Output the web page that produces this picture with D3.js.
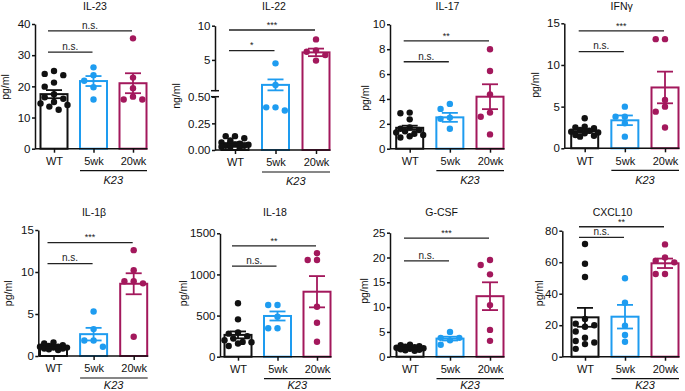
<!DOCTYPE html>
<html><head><meta charset="utf-8">
<script src="https://cdn.jsdelivr.net/npm/d3@7"></script>
<style>
body{margin:0;background:#fff}
svg{display:block;font-family:"Liberation Sans",Arial,Helvetica,sans-serif}
</style></head><body>
<svg id="c" width="685" height="391"></svg>
<script>
// ---------- data ----------
const groups = ["WT", "5wk", "20wk"];
const subgroupLabel = "K23";
const colors = ["#111111", "#1e9cf0", "#a3185c"];

// IL-23 (pg/ml)
const il23WT  = [24.9, 24.0, 23.6, 21.2, 19.9, 17.5, 16.5, 16.0, 15.0, 14.5, 14.0, 13.5, 12.5];
const il23W5  = [26.1, 23.6, 21.8, 19.7, 15.8];
const il23W20 = [35.4, 22.8, 19.4, 16.7, 15.8, 15.8];
const il23Mean = [17.5, 21.7, 21.0];
const il23Sem  = [1.3, 1.6, 3.2];
const il23Ticks = [0, 10, 20, 30, 40];
const il23Sig = [[2, 37.8, "n.s."], [1, 31, "n.s."]];

// IL-22 (ng/ml, broken axis)
const il22WT  = [0.13, 0.13, 0.11, 0.09, 0.07, 0.06, 0.05, 0.05, 0.04, 0.04, 0.03, 0.03, 0.02];
const il22W5  = [4.5, 1.33, 0.40, 0.40, 0.37];
const il22W20 = [8.0, 6.4, 6.2, 5.7, 4.9];
const il22Mean = [0.063, 1.35, 6.1];
const il22Sem  = [0.01, 0.8, 0.55];
const il22TicksLow = [0, 0.25, 0.5];
const il22TicksHigh = [5, 10];
const il22Sig = [[2, 9.37, "***"], [1, 6.35, "*"]];

// IL-17 (pg/ml)
const il17WT  = [2.9, 2.85, 2.36, 1.7, 1.6, 1.5, 1.4, 1.3, 1.2, 1.1, 1.0, 0.9];
const il17W5  = [3.6, 3.2, 2.5, 2.4, 1.6];
const il17W20 = [8.0, 6.25, 4.37, 2.9, 2.57, 1.15];
const il17Mean = [1.68, 2.52, 4.18];
const il17Sem  = [0.17, 0.36, 1.0];
const il17Ticks = [0, 2, 4, 6, 8, 10];
const il17Sig = [[2, 8.66, "**"], [1, 6.99, "n.s."]];

// IFNγ (pg/ml)
const ifngWT  = [3.6, 2.6, 2.5, 2.4, 2.2, 2.1, 2.0, 1.9, 1.8, 1.6, 1.5, 1.4];
const ifngW5  = [5.0, 3.8, 3.8, 3.0, 1.4];
const ifngW20 = [13.1, 13.1, 5.8, 5.0, 4.4, 2.5];
const ifngMean = [2.04, 3.36, 7.3];
const ifngSem  = [0.17, 0.58, 1.9];
const ifngTicks = [0, 5, 10, 15];
const ifngSig = [[2, 14.1, "***"], [1, 11.6, "n.s."]];

// IL-1β (pg/ml)
const il1bWT  = [1.6, 1.5, 1.3, 1.2, 1.1, 1.1, 1.0, 1.0, 0.9, 0.9, 0.8, 0.7];
const il1bW5  = [5.3, 3.2, 1.85, 1.85, 1.1];
const il1bW20 = [12.6, 10.2, 8.9, 8.9, 8.65, 2.3];
const il1bMean = [1.11, 2.6, 8.6];
const il1bSem  = [0.08, 0.75, 1.25];
const il1bTicks = [0, 5, 10, 15];
const il1bSig = [[2, 13.5, "***"], [1, 11.0, "n.s."]];

// IL-18 (pg/ml)
const il18WT  = [649, 454, 296, 280, 250, 220, 200, 180, 175, 160, 130];
const il18W5  = [628, 628, 486, 345, 345];
const il18W20 = [1257, 1176, 1176, 608, 413, 182];
const il18Mean = [265, 495, 790];
const il18Sem  = [42, 55, 190];
const il18Ticks = [0, 500, 1000, 1500];
const il18Sig = [[2, 1346, "**"], [1, 1102, "n.s."]];

// G-CSF (pg/ml)
const gcsfWT  = [2.4, 2.3, 2.1, 2.0, 1.9, 1.8, 1.7, 1.6, 1.5, 1.4, 1.3, 1.2];
const gcsfW5  = [5.0, 3.8, 3.8, 3.3, 2.4];
const gcsfW20 = [19.5, 18.5, 16.6, 10.4, 5.4, 3.2];
const gcsfMean = [1.8, 3.65, 12.2];
const gcsfSem  = [0.1, 0.38, 2.8];
const gcsfTicks = [0, 5, 10, 15, 20, 25];
const gcsfSig = [[2, 23.9, "***"], [1, 19.3, "n.s."]];

// CXCL10 (pg/ml)
const cxclWT  = [71.6, 59.0, 50.6, 24, 21, 20, 19, 16, 12, 10, 9, 8, 5];
const cxclW5  = [49.8, 34.3, 19.7, 13.8, 9.5];
const cxclW20 = [71.3, 63, 61, 59.9, 52.5, 52.5];
const cxclMean = [25.0, 25.4, 59.3];
const cxclSem  = [6.0, 7.5, 3.0];
const cxclTicks = [0, 20, 40, 60, 80];
const cxclSig = [[2, 82.5, "**"], [1, 75.8, "n.s."]];

// ---------- layout (positions only) ----------
const panels = [
  {title:"IL-23", unit:"pg/ml", pts:[il23WT,il23W5,il23W20], mean:il23Mean, sem:il23Sem, ticks:il23Ticks, sig:il23Sig,
   L:{ax:35, c0:54, c2:133, yb:148.7, yt:24, tx:95, ty:9.5, lx:8.8, ly:87, kb:35.5}},
  {title:"IL-22", unit:"ng/ml", pts:[il22WT,il22W5,il22W20], mean:il22Mean, sem:il22Sem, broken:true, sig:il22Sig,
   L:{ax:215, c0:235, c2:316, yb:150, yt:25.7, yBreakLow:96.7, yBreakHigh:90.7, tx:274, ty:9.5, lx:179.5, ly:96, kb:34.5}},
  {title:"IL-17", unit:"pg/ml", pts:[il17WT,il17W5,il17W20], mean:il17Mean, sem:il17Sem, ticks:il17Ticks, sig:il17Sig,
   L:{ax:390, c0:409.7, c2:490, yb:148.7, yt:24.3, tx:447.5, ty:9.5, lx:368.5, ly:98, kb:35.5}},
  {title:"IFNγ", unit:"pg/ml", pts:[ifngWT,ifngW5,ifngW20], mean:ifngMean, sem:ifngSem, ticks:ifngTicks, sig:ifngSig,
   L:{ax:564.3, c0:584.7, c2:665, yb:148.3, yt:23.3, tx:621.7, ty:9.5, lx:538.5, ly:85, kb:35.5}},
  {title:"IL-1β", unit:"pg/ml", pts:[il1bWT,il1bW5,il1bW20], mean:il1bMean, sem:il1bSem, ticks:il1bTicks, sig:il1bSig,
   L:{ax:38.3, c0:53.5, c2:133.7, yb:356, yt:230, tx:94, ty:215.5, lx:11.5, ly:293.3, kb:32.5}},
  {title:"IL-18", unit:"pg/ml", pts:[il18WT,il18W5,il18W20], mean:il18Mean, sem:il18Sem, ticks:il18Ticks, sig:il18Sig,
   L:{ax:220, c0:238, c2:317, yb:356.7, yt:233.3, tx:275, ty:215.5, lx:187, ly:293.3, kb:32}},
  {title:"G-CSF", unit:"pg/ml", pts:[gcsfWT,gcsfW5,gcsfW20], mean:gcsfMean, sem:gcsfSem, ticks:gcsfTicks, sig:gcsfSig,
   L:{ax:390, c0:410, c2:490, yb:356.7, yt:232.7, tx:441.7, ty:215.5, lx:368, ly:291, kb:32}},
  {title:"CXCL10", unit:"pg/ml", pts:[cxclWT,cxclW5,cxclW20], mean:cxclMean, sem:cxclSem, ticks:cxclTicks, sig:cxclSig,
   L:{ax:562.3, c0:585, c2:665, yb:356.7, yt:230.7, tx:612.5, ty:215.5, lx:543, ly:293.3, kb:32}}
];

const svg = d3.select("#c");
const BW = 27, R = 3.2, CAP = 8;

function placeDots(vals, y, cx) {
  const s = 9.3;
  const cands = [0, -s, s, -s/2, s/2, -1.45*s, 1.45*s];
  const order = vals.map((v,i)=>i).sort((a,b)=>vals[b]-vals[a]);
  const placed = [];
  const out = [];
  order.forEach(i => {
    const py = y(vals[i]);
    let chosen = null, best = -1, bestC = 0;
    for (const c of cands) {
      const md = placed.length ? d3.min(placed, p => Math.hypot(p[0]-c, p[1]-py)) : Infinity;
      if (md >= 2*R) { chosen = c; break; }
      if (md > best + 0.6) { best = md; bestC = c; }
    }
    if (chosen === null) chosen = bestC;
    placed.push([chosen, py]);
    out.push({x: cx + chosen, y: py});
  });
  return out;
}

panels.forEach(p => {
  const L = p.L;
  const g = svg.append("g");
  const x = d3.scalePoint().domain(groups).range([L.c0, L.c2]);
  let y, axes = [];
  if (p.broken) {
    const lower = d3.scaleLinear().domain([0, 0.5]).range([L.yb, L.yBreakLow]);
    const upper = d3.scaleLinear().domain([0.5, 10]).range([L.yBreakHigh, L.yt]);
    y = v => v <= 0.5 ? lower(v) : upper(v);
    axes.push(d3.axisLeft(lower).tickValues(il22TicksLow).tickFormat(d3.format(".2f")));
    axes.push(d3.axisLeft(upper).tickValues(il22TicksHigh).tickFormat(d3.format("d")));
  } else {
    const s = d3.scaleLinear().domain([0, d3.max(p.ticks)]).range([L.yb, L.yt]);
    y = s;
    axes.push(d3.axisLeft(s).tickValues(p.ticks).tickFormat(d3.format("d")));
  }
  // bars
  groups.forEach((gn, i) => {
    const cx = x(gn);
    g.append("rect").attr("x", cx - BW/2).attr("y", y(p.mean[i]))
      .attr("width", BW).attr("height", y(0) - y(p.mean[i]))
      .attr("fill", "#fff").attr("stroke", colors[i]).attr("stroke-width", 2);
  });
  // dots
  groups.forEach((gn, i) => {
    const pos = placeDots(p.pts[i], y, x(gn));
    g.selectAll(null).data(pos).enter().append("circle")
      .attr("cx", d => d.x).attr("cy", d => d.y).attr("r", R).attr("fill", colors[i]);
  });
  // error bars
  groups.forEach((gn, i) => {
    const cx = x(gn), hi = y(p.mean[i] + p.sem[i]), lo = y(p.mean[i] - p.sem[i]);
    const eg = g.append("g").attr("stroke", colors[i]).attr("stroke-width", 1.8);
    eg.append("line").attr("x1", cx).attr("x2", cx).attr("y1", lo).attr("y2", hi);
    eg.append("line").attr("x1", cx-CAP).attr("x2", cx+CAP).attr("y1", hi).attr("y2", hi);
    eg.append("line").attr("x1", cx-CAP).attr("x2", cx+CAP).attr("y1", lo).attr("y2", lo);
  });
  // y axes
  axes.forEach(a => {
    const ag = g.append("g").attr("transform", `translate(${L.ax},0)`)
      .call(a.tickSize(3).tickSizeOuter(0).tickPadding(1.5));
    ag.select(".domain").attr("stroke", "#111").attr("stroke-width", 1.5);
    ag.selectAll(".tick line").attr("stroke", "#111").attr("stroke-width", 1.5);
    ag.selectAll("text").attr("font-size", 11.5).attr("fill", "#111").attr("font-family", null);
  });
  if (p.broken) {
    [L.yBreakHigh, L.yBreakLow].forEach(yy => {
      g.append("line").attr("x1", L.ax - 4).attr("x2", L.ax + 4).attr("y1", yy).attr("y2", yy)
        .attr("stroke", "#111").attr("stroke-width", 1.5);
    });
  }
  // x axis
  g.append("line").attr("x1", L.ax).attr("x2", L.c2 + BW/2 + 1).attr("y1", L.yb).attr("y2", L.yb)
    .attr("stroke", "#111").attr("stroke-width", 1.5);
  const xg = g.append("g").attr("transform", `translate(0,${L.yb})`)
    .call(d3.axisBottom(x).tickSize(4).tickPadding(4.5));
  xg.select(".domain").remove();
  xg.selectAll(".tick line").attr("stroke", "#111").attr("stroke-width", 1.5);
  xg.selectAll("text").attr("font-size", 11).attr("fill", "#111").attr("font-family", null);
  // K23 group bracket
  const kx1 = x("5wk") - BW/2, kx2 = x("20wk") + BW/2 + 0.5;
  g.append("line").attr("x1", kx1).attr("x2", kx2).attr("y1", L.yb + 22).attr("y2", L.yb + 22)
    .attr("stroke", "#111").attr("stroke-width", 1.2);
  g.append("text").attr("x", (x("5wk") + x("20wk"))/2).attr("y", L.yb + L.kb)
    .attr("text-anchor", "middle").attr("font-size", 11).attr("font-style", "italic").attr("fill", "#111")
    .text(subgroupLabel);
  // title
  g.append("text").attr("x", L.tx).attr("y", L.ty).attr("text-anchor", "middle")
    .attr("font-size", 10.5).attr("fill", "#111").text(p.title);
  // unit label
  g.append("text").attr("transform", `translate(${L.lx},${L.ly}) rotate(-90)`)
    .attr("text-anchor", "middle").attr("font-size", 10.5).attr("fill", "#111").text(p.unit);
  // significance bars
  p.sig.forEach(([to, at, lab]) => {
    const yy = y(at), x1 = x("WT") - 6, x2 = x(groups[to]) - 1;
    g.append("line").attr("x1", x1).attr("x2", x2).attr("y1", yy).attr("y2", yy)
      .attr("stroke", "#222").attr("stroke-width", 1.3);
    g.append("text").attr("x", (x1 + x2)/2).attr("y", yy - 2.2).attr("text-anchor", "middle")
      .attr("font-size", lab === "n.s." ? 10 : 9).attr("fill", "#222").text(lab);
  });
});
</script>
</body></html>
